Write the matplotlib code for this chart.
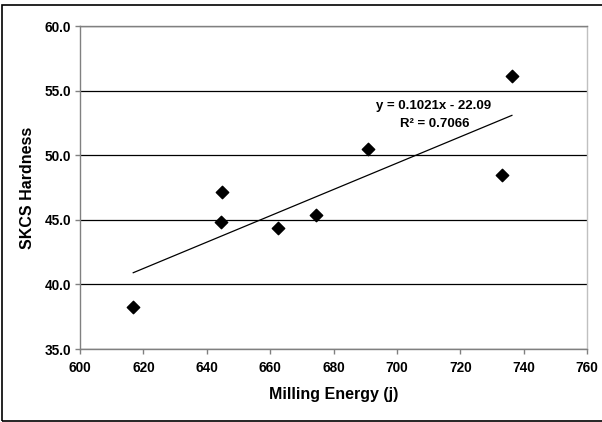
import numpy as np
import matplotlib
matplotlib.use('Agg')
import matplotlib.pyplot as plt
from matplotlib.patches import Rectangle
import matplotlib.ticker as ticker

# data
milling_energy = [616.8, 644.5, 644.8, 662.5, 674.5, 690.9, 733.3, 736.3]
skcs_hardness = [38.28, 44.85, 47.13, 44.34, 45.40, 50.45, 48.47, 56.13]
x_ticks = [600, 620, 640, 660, 680, 700, 720, 740, 760]
y_ticks = [35.0, 40.0, 45.0, 50.0, 55.0, 60.0]
eq_label = "y = 0.1021x - 22.09"
r2_label = "R² = 0.7066"

plt.rcParams['font.family'] = ['Liberation Sans', 'DejaVu Sans']

fig = plt.figure(figsize=(6.02, 4.22), dpi=100)
fig.patch.set_facecolor('white')

# outer chart frame (clipped on the right as in the reference)
fig.patches.append(Rectangle((2 / 602, 1 / 422), 1.0, 416 / 422,
                             transform=fig.transFigure, fill=False,
                             edgecolor='black', linewidth=1.2))

ax = fig.add_axes([80 / 602, (422 - 349) / 422, 507 / 602, 323 / 422])

ax.scatter(milling_energy, skcs_hardness, marker='D', s=40, color='black', zorder=4)

# linear trendline
slope, intercept = np.polyfit(milling_energy, skcs_hardness, 1)
xs = np.array([min(milling_energy), max(milling_energy)])
ax.plot(xs, slope * xs + intercept, color='black', linewidth=0.9, zorder=3)

ax.text(711.5, 53.8, eq_label, ha='center', va='center', fontsize=9.5, fontweight='bold')
ax.text(712.0, 52.4, r2_label, ha='center', va='center', fontsize=9.5, fontweight='bold')

ax.set_xlim(600, 760)
ax.set_ylim(35, 60)
ax.set_xticks(x_ticks)
ax.set_yticks(y_ticks)
ax.yaxis.set_major_formatter(ticker.FormatStrFormatter('%.1f'))
ax.grid(axis='y', color='black', linewidth=0.9)
ax.set_axisbelow(True)

ax.spines['left'].set_color('#808080')
ax.spines['bottom'].set_color('#808080')
ax.spines['top'].set_color('#808080')
ax.spines['right'].set_color('#c0c0c0')
for s in ax.spines.values():
    s.set_linewidth(1.0)

ax.tick_params(direction='out', length=3.5, width=1.0, color='#808080',
               labelsize=9.8, pad=3)
for lbl in ax.get_xticklabels() + ax.get_yticklabels():
    lbl.set_fontweight('bold')
ax.tick_params(axis='x', pad=5)

ax.set_xlabel('Milling Energy (j)', fontsize=11.5, fontweight='bold', labelpad=9)
ax.set_ylabel('SKCS Hardness', fontsize=11.5, fontweight='bold', labelpad=7)

fig.savefig('out.png', dpi=100, facecolor='white')
